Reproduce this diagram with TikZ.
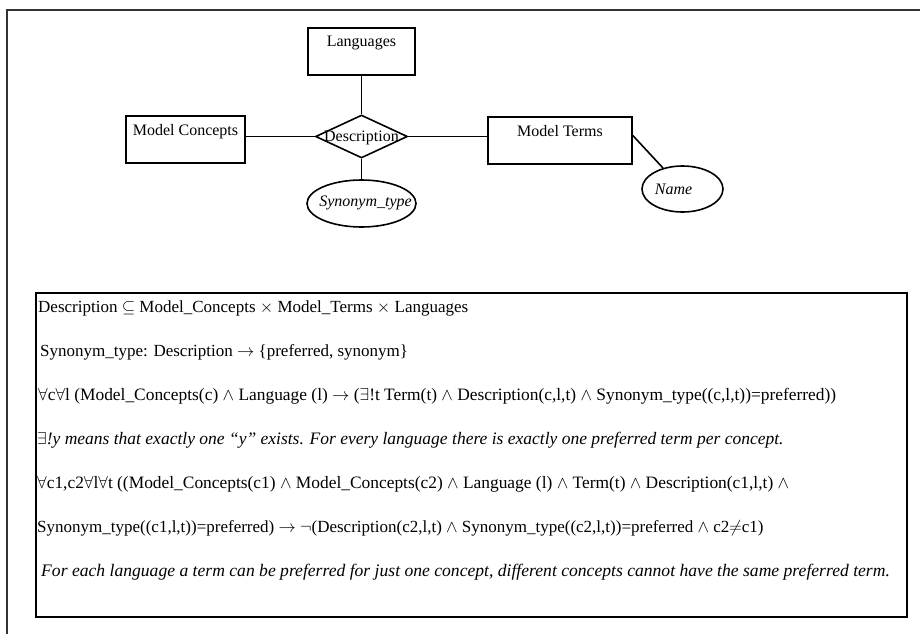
\documentclass[tikz,border=0pt]{standalone}
\usepackage{fontspec}
\setmainfont{Liberation Serif}
\usetikzlibrary{shapes.geometric}
\begin{document}
\begin{tikzpicture}[x=1pt,y=-1pt,
  erfont/.style={font=\fontsize{16}{19}\selectfont},
  ent/.style={draw, line width=1.6pt, rectangle, inner xsep=0pt, inner ysep=0pt,
    text height=19pt, text depth=28pt, minimum height=47pt, erfont},
  rel/.style={draw, line width=1.6pt, diamond, inner sep=0pt, minimum width=92pt,
    minimum height=43pt, erfont},
  attr/.style={draw, line width=1.6pt, ellipse, inner sep=0pt, erfont},
  link/.style={line width=1.6pt},
  ftext/.style={anchor=base west, inner sep=0pt, font=\fontsize{17}{20}\selectfont},
  fitext/.style={ftext, font=\fontsize{17}{20}\selectfont\itshape}]
\useasboundingbox (0,0) rectangle (920,634);
% outer frame
\draw[line width=1.5pt, black!80] (7,634) -- (7,10) -- (920,10);
% E-R diagram
\node[ent, minimum width=107pt] (lang) at (361.5,51.5) {Languages};
\node[ent, minimum width=119pt] (mc) at (185.5,139.5) {Model Concepts};
\node[ent, minimum width=144pt] (mt) at (560,140.5) {Model Terms};
\node[rel] (desc) at (361.5,136.5) {\smash{\makebox[0pt]{\raisebox{-5pt}{Description}}}};
\node[attr, minimum width=109pt, minimum height=47pt] (syn) at (361.5,203.5)
  {\smash{\makebox[0pt]{\kern8pt\raisebox{-3pt}{\itshape Synonym\_type}}}};
\node[attr, minimum width=81pt, minimum height=46pt] (name) at (682.5,189)
  {\smash{\makebox[0pt]{\kern-18pt\raisebox{-5pt}{\itshape Name}}}};
\draw[link] (lang.south) -- (desc.north);
\draw[link] (desc.south) -- (syn.north);
\draw[link] (desc.west) -- (desc.west -| mc.east);
\draw[link] (desc.east) -- (desc.east -| mt.west);
\draw[link] ([yshift=5pt]mt.east) -- (name);
% formula box
\node[draw, line width=1.6pt, rectangle, inner sep=0pt, minimum width=871pt,
  minimum height=324pt] (fbox) at (471.5,455) {};
\node[ftext] (f1) at (38,312) {Description $\subseteq$ Model\_Concepts $\times$ Model\_Terms $\times$ Languages};
\node[ftext] (f2) at (40,356) {Synonym\_type: Description $\rightarrow$ \{preferred, synonym\}};
\node[ftext, font=\fontsize{17.4}{20}\selectfont] (f3) at (38,400) {$\forall$c$\forall$l (Model\_Concepts(c) $\wedge$ Language (l) $\rightarrow$ ($\exists$!t Term(t) $\wedge$ Description(c,l,t) $\wedge$ Synonym\_type((c,l,t))=preferred))};
\node[fitext, font=\fontsize{17.5}{20}\selectfont\itshape] (f4) at (37,444) {$\exists$!y means that exactly one ``y'' exists. For every language there is exactly one preferred term per concept.};
\node[ftext, font=\fontsize{17.4}{20}\selectfont] (f5) at (37,488) {$\forall$c1,c2$\forall$l$\forall$t ((Model\_Concepts(c1) $\wedge$ Model\_Concepts(c2) $\wedge$ Language (l) $\wedge$ Term(t) $\wedge$ Description(c1,l,t) $\wedge$};
\node[ftext] (f6) at (37,532) {Synonym\_type((c1,l,t))=preferred) $\rightarrow$ $\neg$(Description(c2,l,t) $\wedge$ Synonym\_type((c2,l,t))=preferred $\wedge$ c2$\neq$c1)};
\node[fitext, font=\fontsize{17.6}{20}\selectfont\itshape] (f7) at (41,576) {For each language a term can be preferred for just one concept, different concepts cannot have the same preferred term.};
\end{tikzpicture}
\end{document}
